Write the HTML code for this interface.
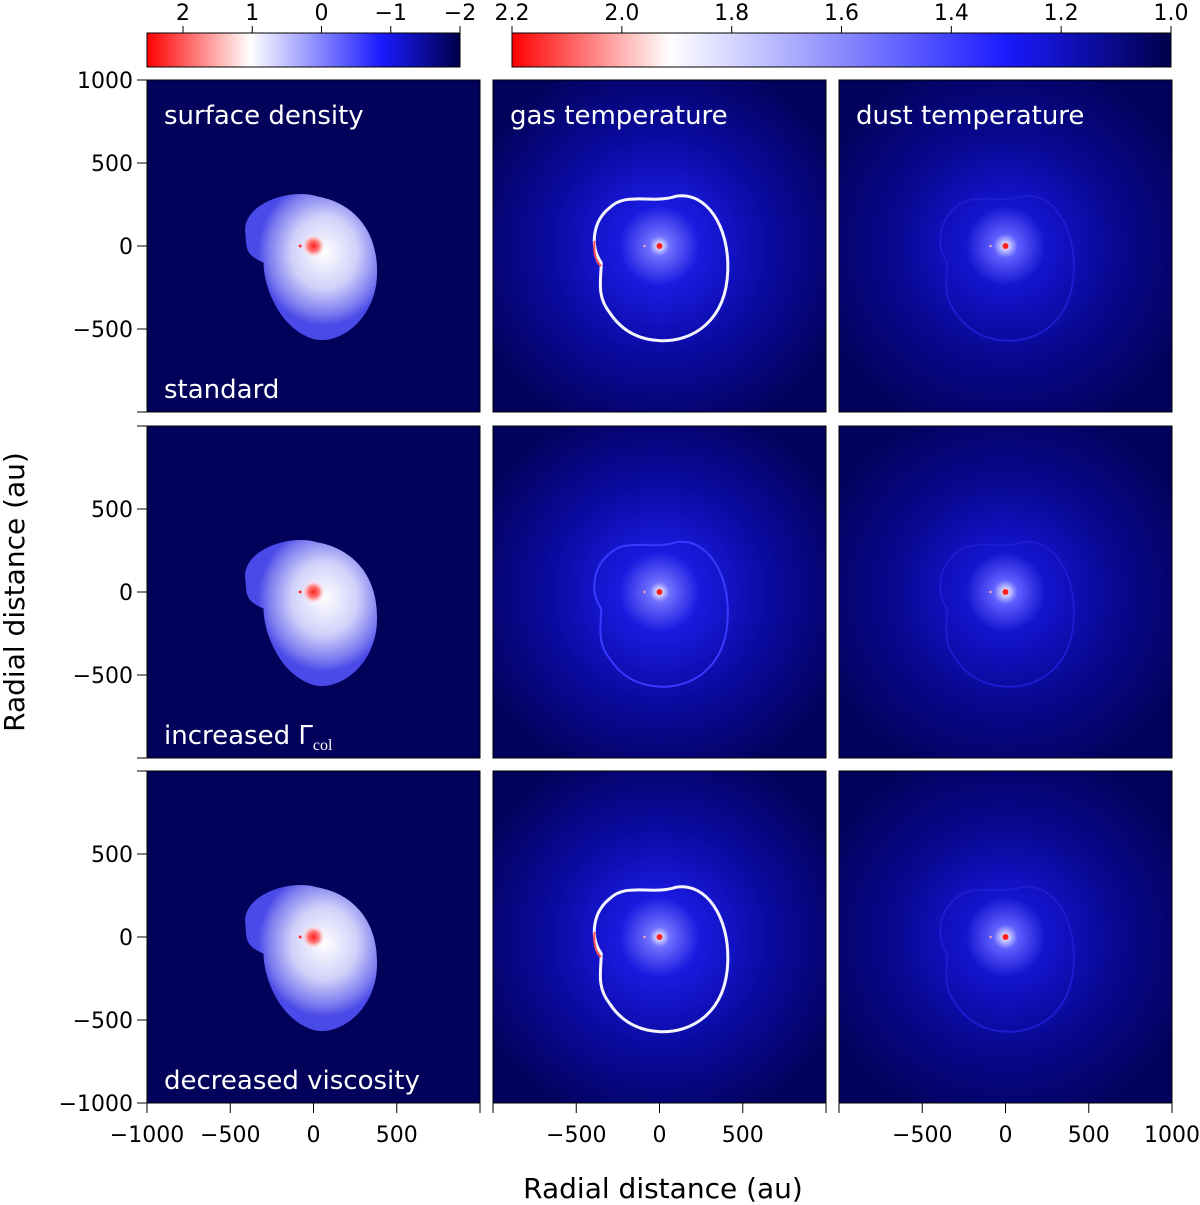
<!DOCTYPE html>
<html><head><meta charset="utf-8"><style>
html,body{margin:0;padding:0;background:#fff;}
svg{display:block;font-family:"DejaVu Sans","Liberation Sans",sans-serif;}
</style></head><body>
<svg id="fig" width="1200" height="1205" viewBox="0 0 1200 1205" xmlns="http://www.w3.org/2000/svg">
<defs id="defs">
<linearGradient id="cbL" x1="0" x2="1" y1="0" y2="0">
<stop offset="0" stop-color="#ff0000"/><stop offset="0.33" stop-color="#ffffff"/><stop offset="0.75" stop-color="#1a1aff"/><stop offset="1" stop-color="#00004a"/>
</linearGradient>
<linearGradient id="cbR" x1="0" x2="1" y1="0" y2="0">
<stop offset="0" stop-color="#ff0000"/><stop offset="0.24" stop-color="#ffffff"/><stop offset="0.75" stop-color="#1a1aff"/><stop offset="1" stop-color="#00004a"/>
</linearGradient>
<radialGradient id="glowGas"><stop offset="0" stop-color="#ffffff"/><stop offset="0.05" stop-color="#7070ff"/><stop offset="0.2" stop-color="#1a1ae0"/><stop offset="0.55" stop-color="#0a0aa0"/><stop offset="1" stop-color="#02025a"/></radialGradient>
<radialGradient id="glowDust"><stop offset="0" stop-color="#ffffff"/><stop offset="0.06" stop-color="#6060ff"/><stop offset="0.2" stop-color="#1414d0"/><stop offset="0.55" stop-color="#080890"/><stop offset="1" stop-color="#02025a"/></radialGradient>
<radialGradient id="disk" cx="0.6" cy="0.4"><stop offset="0" stop-color="#ffffff"/><stop offset="0.5" stop-color="#d0d0fa"/><stop offset="0.85" stop-color="#7a7af0"/><stop offset="1" stop-color="#4a4ae8"/></radialGradient>
<radialGradient id="core"><stop offset="0" stop-color="#ff2020"/><stop offset="0.5" stop-color="#ff8080"/><stop offset="1" stop-color="#ffffff" stop-opacity="0"/></radialGradient>
</defs>
<g id="plots"></g>
</svg>
<script>
const xTicks=[-1000,-500,0,500,1000];
const yTicks=[1000,500,0,-500,-1000];
const rowLabels=["standard","increased \u0393","decreased viscosity"];
const colTitles=["surface density","gas temperature","dust temperature"];
const cbLeftTicks=[2,1,0,-1,-2];
const cbLeftRange=[2.52,-2];
const cbRightTicks=[2.2,2.0,1.8,1.6,1.4,1.2,1.0];
const cbRightRange=[2.2,1.0];
const ringStrength=[1,0.45,1];
const NS="http://www.w3.org/2000/svg";
const svg=document.getElementById('plots');
const defs=document.getElementById('defs');
function el(t,a,p){const e=document.createElementNS(NS,t);for(const k in a)e.setAttribute(k,a[k]);(p||svg).appendChild(e);return e;}
const colX=[147,493,839], rowY=[80,426,771], W=333, H=332;
function sx(c,v){return colX[c]+(v+1000)/2000*W;}
function sy(r,v){return rowY[r]+(1000-v)/2000*H;}
for(let r=0;r<3;r++)for(let c=0;c<3;c++){
  const cp=el('clipPath',{id:'cp'+r+c},defs);
  el('rect',{x:colX[c],y:rowY[r],width:W,height:H},cp);
  const g=el('g',{});
  
  
  const inner=el('g',{'clip-path':'url(#cp'+r+c+')'},g);
  el('rect',{x:colX[c],y:rowY[r],width:W,height:H,fill:'#02025a'},inner);
  const cx=sx(c,0), cy=sy(r,0);
  if(c===0){
    el('path',{d:`M${sx(0,-410)},${sy(r,80)} C${sx(0,-430)},${sy(r,250)} ${sx(0,-150)},${sy(r,350)} ${sx(0,20)},${sy(r,300)} C${sx(0,250)},${sy(r,260)} ${sx(0,400)},${sy(r,80)} ${sx(0,380)},${sy(r,-200)} C${sx(0,360)},${sy(r,-450)} ${sx(0,150)},${sy(r,-600)} ${sx(0,0)},${sy(r,-560)} C${sx(0,-200)},${sy(r,-500)} ${sx(0,-300)},${sy(r,-250)} ${sx(0,-300)},${sy(r,-100)} C${sx(0,-420)},${sy(r,-50)} ${sx(0,-400)},${sy(r,0)} ${sx(0,-410)},${sy(r,80)}Z`,fill:'url(#disk)'},inner);
    el('circle',{cx:cx,cy:cy,r:12,fill:'url(#core)'},inner);
    el('circle',{cx:sx(0,-80),cy:cy,r:1.5,fill:'#ff3030'},inner);
  } else {
    el('circle',{cx:cx,cy:cy,r:200,fill:c===1?'url(#glowGas)':'url(#glowDust)'},inner);
    const s=c===1?ringStrength[r]:0.25;
    const col=s>0.8?'#f4f4ff':(s>0.4?'#3a3aff':'#1c1cd0');
    el('path',{d:`M${sx(c,-300)},${sy(r,230)} C${sx(c,-200)},${sy(r,330)} ${sx(c,-50)},${sy(r,250)} ${sx(c,100)},${sy(r,300)} C${sx(c,280)},${sy(r,330)} ${sx(c,420)},${sy(r,120)} ${sx(c,410)},${sy(r,-150)} C${sx(c,400)},${sy(r,-450)} ${sx(c,200)},${sy(r,-580)} ${sx(c,0)},${sy(r,-570)} C${sx(c,-200)},${sy(r,-560)} ${sx(c,-280)},${sy(r,-430)} ${sx(c,-300)},${sy(r,-400)} C${sx(c,-380)},${sy(r,-300)} ${sx(c,-350)},${sy(r,-200)} ${sx(c,-350)},${sy(r,-100)} C${sx(c,-420)},${sy(r,0)} ${sx(c,-400)},${sy(r,150)} ${sx(c,-300)},${sy(r,230)}Z`,fill:'none',stroke:col,'stroke-width':s>0.8?3:2},inner);
    if(s>0.8) el('path',{d:`M${sx(c,-390)},${sy(r,30)} C${sx(c,-400)},${sy(r,-60)} ${sx(c,-370)},${sy(r,-110)} ${sx(c,-350)},${sy(r,-120)}`,fill:'none',stroke:'#ff5050','stroke-width':2},inner);
    el('circle',{cx:cx,cy:cy,r:3,fill:'#ff2020'},inner);
    el('circle',{cx:sx(c,-90),cy:cy,r:1.2,fill:'#ffaaaa'},inner);
  }
  el('rect',{x:colX[c],y:rowY[r],width:W,height:H,fill:'none',stroke:'#000','stroke-width':1},g);
  if(r===0){const t=el('text',{x:colX[c]+17,y:rowY[r]+44,fill:'#fff','font-size':26},g);t.textContent=colTitles[c];}
  if(c===0){const t=el('text',{x:colX[c]+17,y:rowY[r]+318,fill:'#fff','font-size':26},g);t.textContent=rowLabels[r];
    if(r===1){const s=el('tspan',{'font-size':16,dy:6,'font-family':'Liberation Serif'},t);s.textContent='col';}}
  if(c===0) yTicks.forEach(v=>{
    const y=sy(r,v);
    el('line',{x1:colX[0]-10,x2:colX[0],y1:y,y2:y,stroke:'#000'},g);
    const show=(r===0&&v!==-1000)||(r===1&&Math.abs(v)<1000)||(r===2&&v!==1000);
    if(show){const t=el('text',{x:colX[0]-14,y:y+8,'text-anchor':'end','font-size':22},g);t.textContent=v<0?'\u2212'+(-v):v;}
  });
  if(r===2) xTicks.forEach(v=>{
    const x=sx(c,v);
    el('line',{x1:x,x2:x,y1:rowY[2]+H,y2:rowY[2]+H+10,stroke:'#000'},g);
    const show=c===0?v!==1000:(c===1?Math.abs(v)<1000:v!==-1000);
    if(show){const t=el('text',{x:x,y:1142,'text-anchor':'middle','font-size':22},g);t.textContent=v<0?'\u2212'+(-v):v;}
  });
}
function cbar(x0,w,grad,ticks,range,name){
  const g=el('g',{});
  
  
  el('rect',{x:x0,y:33,width:w,height:34,fill:'url(#'+grad+')',stroke:'#000'},g);
  ticks.forEach(v=>{
    const x=x0+(range[0]-v)/(range[0]-range[1])*w;
    el('line',{x1:x,x2:x,y1:33,y2:26,stroke:'#000'},g);
    const t=el('text',{x:x,y:20,'text-anchor':'middle','font-size':22},g);
    t.textContent=name==='colorbar-temperature'?v.toFixed(1):(v<0?'\u2212'+(-v):String(v));
    
    
  });
}
cbar(147,313,'cbL',cbLeftTicks,cbLeftRange,'colorbar-density');
cbar(512,659,'cbR',cbRightTicks,cbRightRange,'colorbar-temperature');
const xt=el('text',{x:663,y:1198,'text-anchor':'middle','font-size':28});xt.textContent='Radial distance (au)';


const yt=el('text',{x:0,y:0,'text-anchor':'middle','font-size':28,transform:'translate(24,592) rotate(-90)'});yt.textContent='Radial distance (au)';


</script>
</body></html>
